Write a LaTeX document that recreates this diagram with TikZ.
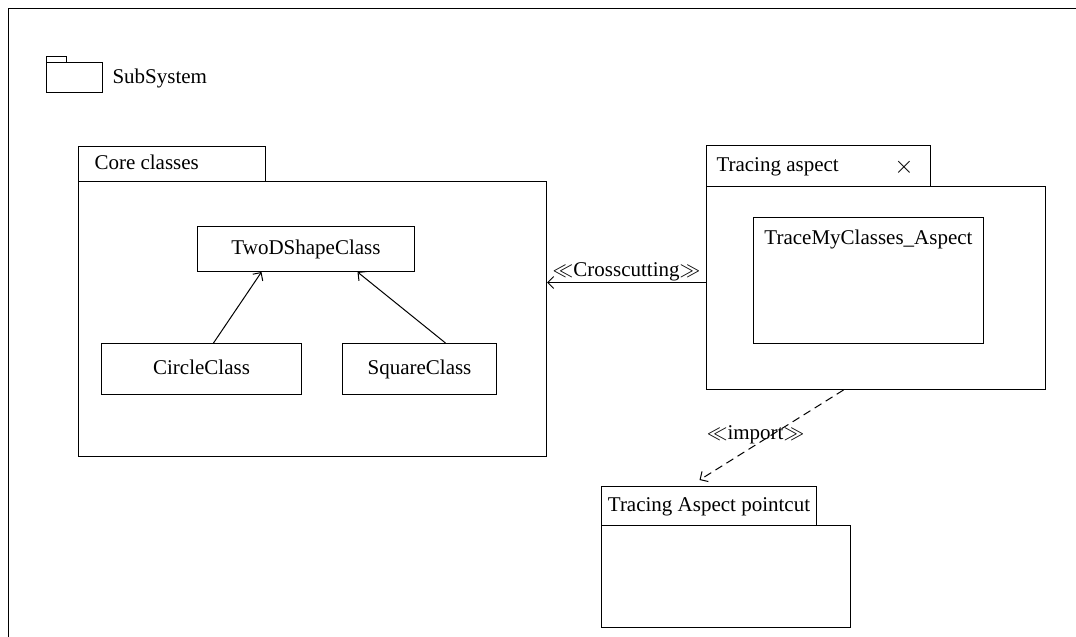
\documentclass[tikz,border=0pt]{standalone}
\usepackage{fontspec}
\setmainfont{Liberation Serif}
\usetikzlibrary{arrows.meta}
\begin{document}
\begin{tikzpicture}[x=1pt,y=-1pt,
  font=\fontsize{21}{25}\selectfont,
  line width=1pt,
  box/.style={draw, rectangle, anchor=north west, inner sep=0pt},
  txt/.style={inner sep=0pt, text height=14pt, text depth=4pt},
  arr/.style={-{Straight Barb[length=6pt,width=12pt]}},
]
\useasboundingbox (0,0) rectangle (1076,637);
\clip (0,0) rectangle (1076,637);
\fill[white] (0,0) rectangle (1076,637);
% outer frame, continuing past the page edges
\node[box, minimum width=1100pt, minimum height=660pt] (frame) at (8,8) {};

% legend: package icon
\node[box, minimum width=20pt, minimum height=6pt] (icontab) at (46,56) {};
\node[box, minimum width=56pt, minimum height=30pt] (iconbody) at (46,62) {};
\node[txt, anchor=west] (legend) at (112,78) {SubSystem};

% package: Core classes
\node[box, minimum width=187pt, minimum height=35pt] (coretab) at (78,146) {};
\node[box, minimum width=468pt, minimum height=275pt] (corebody) at (78,181) {};
\node[txt, anchor=west] (corelabel) at (94,164.5) {Core classes};
\node[box, minimum width=217pt, minimum height=45pt] (twod) at (197,226) {};
\node[txt] (twodlabel) at (twod.center) {TwoDShapeClass};
\node[box, minimum width=200pt, minimum height=51pt] (circle) at (101,343) {};
\node[txt] (circlelabel) at (circle.center) {CircleClass};
\node[box, minimum width=154pt, minimum height=51pt] (square) at (342,343) {};
\node[txt] (squarelabel) at (square.center) {SquareClass};
\draw[arr] ([xshift=12pt]circle.north) -- ([xshift=-44.5pt]twod.south);
\draw[arr] ([xshift=26pt]square.north) -- ([xshift=51.5pt]twod.south);

% package: Tracing aspect
\node[box, minimum width=224pt, minimum height=41pt] (trtab) at (706,145) {};
\node[box, minimum width=339pt, minimum height=203pt] (trbody) at (706,186) {};
\node[txt, anchor=west] (trlabel) at (716,166.5) {Tracing aspect};
\node[inner sep=0pt, font=\fontsize{24}{28}\selectfont] (trclose) at (904,167) {$\times$};
\node[box, minimum width=230pt, minimum height=126pt] (aspect) at (753,217) {};
\node[txt, anchor=north] (aspectlabel) at ([yshift=-13pt]aspect.north) {TraceMyClasses\_Aspect};

% package: Tracing Aspect pointcut
\node[box, minimum width=215pt, minimum height=39pt] (pctab) at (601,486) {};
\node[box, minimum width=249pt, minimum height=102pt] (pcbody) at (601,525) {};
\node[txt] (pclabel) at (pctab.center) {Tracing Aspect pointcut};

% dependencies
\draw[arr] ([yshift=5.5pt]trbody.west) -- ([yshift=5.5pt]trbody.west -| corebody.east)
  node[midway, above=1pt, inner sep=0pt] (cross) {$\ll$Crosscutting$\gg$};
\draw[arr, dash pattern=on 8pt off 5pt] ([xshift=-32.5pt]trbody.south) -- ([xshift=-9.5pt,yshift=6pt]pctab.north)
  node[midway, xshift=-16pt, inner sep=0pt] (imp) {$\ll$import$\gg$};
\end{tikzpicture}
\end{document}
